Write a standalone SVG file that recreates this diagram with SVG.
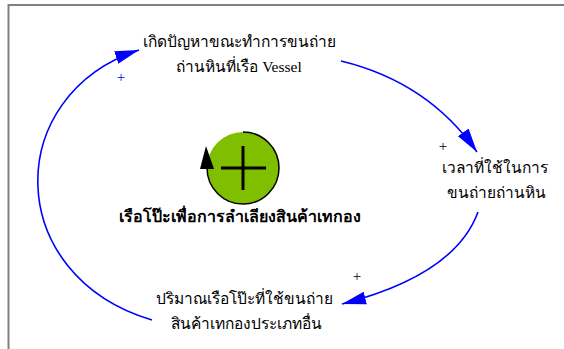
<svg xmlns="http://www.w3.org/2000/svg" width="564" height="349" viewBox="0 0 564 349">
<style>
.lbl{font-family:"Liberation Serif","DejaVu Serif",serif;font-size:15.5px;fill:#000;text-anchor:middle}
.b{font-weight:bold;font-size:16px}
.pl{font-family:"Liberation Serif",serif;font-size:15px;text-anchor:middle}
.link{fill:none;stroke:#0000ff;stroke-width:1.6}
</style>
<defs>
<marker id="ah" markerUnits="userSpaceOnUse" markerWidth="24" markerHeight="14" refX="22" refY="6" orient="auto" viewBox="0 0 22 12">
<path d="M0,0 L22,6 L0,12 z" fill="#0000ff"/>
</marker>
</defs>
<rect width="564" height="349" fill="#fff"/>
<path d="M8.5,349 V5 H564" fill="none" stroke="#808080" stroke-width="2"/>
<g id="connectors">
<path class="link" d="M152,320 C2,275 2,95 139,50" marker-end="url(#ah)"/>
<path class="link" d="M341,61 Q428,82 477,152" marker-end="url(#ah)"/>
<path class="link" d="M478,212 Q455,275 342,304" marker-end="url(#ah)"/>
<text class="pl" x="121" y="82" fill="#0000ff">+</text>
<text class="pl" x="443" y="151" fill="#000">+</text>
<text class="pl" x="357" y="281" fill="#000">+</text>
</g>
<g id="node-problem">
<text class="lbl" x="239" y="47">เกิดปัญหาขณะทำการขนถ่าย</text>
<text class="lbl" x="239" y="72">ถ่านหินที่เรือ Vessel</text>
</g>
<g id="node-time">
<text class="lbl" x="495" y="173">เวลาที่ใช้ในการ</text>
<text class="lbl" x="496" y="198">ขนถ่ายถ่านหิน</text>
</g>
<g id="node-amount">
<text class="lbl" x="244" y="304">ปริมาณเรือโป๊ะที่ใช้ขนถ่าย</text>
<text class="lbl" x="246" y="329">สินค้าเทกองประเภทอื่น</text>
</g>
<g id="loop">
<circle cx="243" cy="168" r="36" fill="#80bf00"/>
<path d="M243,132 A36,36 0 1 1 207,168" fill="none" stroke="#000" stroke-width="1.5"/>
<path d="M206,146 L200,169 L214,169 z" fill="#000"/>
<path d="M221,168 H266 M243,146 V190" stroke="#000" stroke-width="3"/>
<text class="lbl b" x="240" y="222">เรือโป๊ะเพื่อการลำเลียงสินค้าเทกอง</text>
</g>
</svg>
